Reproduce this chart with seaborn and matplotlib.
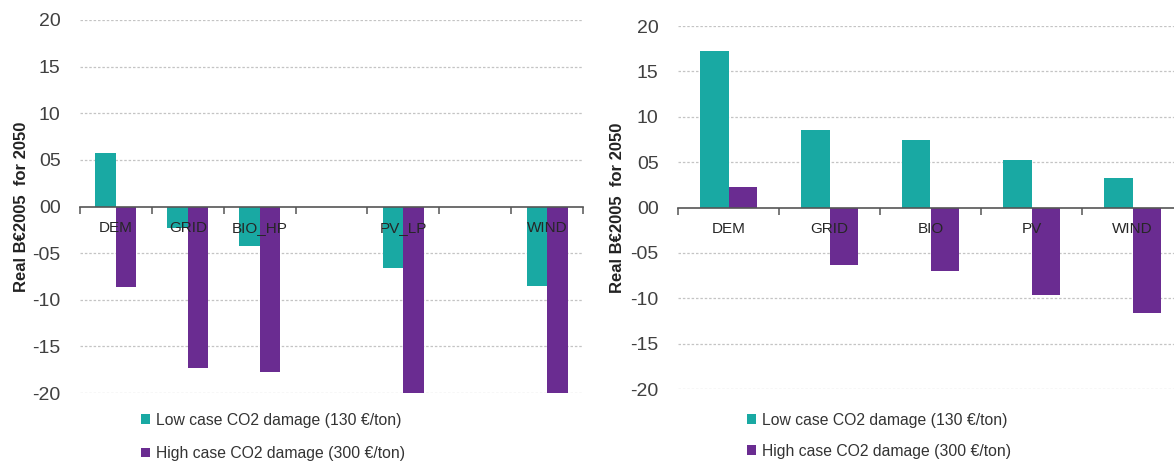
import numpy as np
import pandas as pd
import matplotlib
matplotlib.use("Agg")
import matplotlib.pyplot as plt
import seaborn as sns

# Left panel data
left_categories = ["DEM", "GRID", "BIO_HP", "PV_LP", "WIND"]
left_low = [5.7, -2.3, -4.2, -6.6, -8.5]
left_high = [-8.6, -17.3, -17.8, -20.0, -20.0]

# Right panel data
right_categories = ["DEM", "GRID", "BIO", "PV", "WIND"]
right_low = [17.2, 8.5, 7.4, 5.2, 3.2]
right_high = [2.3, -6.3, -7.0, -9.6, -11.6]

series_names = ["Low case CO2 damage (130 €/ton)", "High case CO2 damage (300 €/ton)"]
y_ticks = [-20, -15, -10, -5, 0, 5, 10, 15, 20]
y_tick_labels = ["-20", "-15", "-10", "-05", "00", "05", "10", "15", "20"]
y_label = "Real B€2005  for 2050"

TEAL = "#19A9A3"
PURPLE = "#6A2C91"

sns.set_theme(style="white")
plt.rcParams["font.family"] = ["Liberation Sans", "DejaVu Sans"]


def make_df(cats, low, high):
    return pd.DataFrame({
        "cat": cats * 2,
        "value": low + high,
        "series": [series_names[0]] * len(cats) + [series_names[1]] * len(cats),
    })


def draw_panel(ax, df, order, labels):
    sns.barplot(data=df, x="cat", y="value", hue="series", order=order,
                hue_order=series_names, palette=[TEAL, PURPLE],
                width=0.57, gap=0, saturation=1, errorbar=None,
                edgecolor="none", ax=ax, legend=True, zorder=2)
    n = len(order)
    ax.set_xlim(-0.5, n - 0.5)
    ax.set_ylim(-20, 20)
    # dashed grid lines behind the bars
    for t in y_ticks:
        if t != 0:
            ax.axhline(t, color="#C4C4C4", lw=0.9, ls=(0, (2, 1.5)), zorder=0)
    ax.set_axisbelow(False)
    ax.set_yticks(y_ticks)
    ax.set_yticklabels(y_tick_labels, fontsize=14, color="#404040")
    ax.tick_params(axis="y", length=0, pad=14)
    ax.set_xticks(range(n))
    ax.set_xticklabels(labels, fontsize=13.5, color="#333333")
    ax.set_xticks(np.arange(-0.5, n, 1), minor=True)
    ax.tick_params(axis="x", which="major", length=0, pad=10.5)
    ax.tick_params(axis="x", which="minor", length=5, width=1.1,
                   color="#555555", direction="out", bottom=True)
    for s in ["left", "right", "top"]:
        ax.spines[s].set_visible(False)
    ax.spines["bottom"].set_position(("data", 0))
    ax.spines["bottom"].set_color("#555555")
    ax.spines["bottom"].set_linewidth(1.2)
    ax.set_xlabel("")
    ax.set_ylabel(y_label, fontsize=12, fontweight="bold", color="#222222")
    handles, lbls = ax.get_legend_handles_labels()
    ax.get_legend().remove()
    return handles, lbls


fig = plt.figure(figsize=(11.74, 4.72), dpi=100)
ax1 = fig.add_axes([80 / 1174, 1 - 393 / 472, 503 / 1174, 373 / 472])
ax2 = fig.add_axes([678 / 1174, 1 - 389 / 472, 505 / 1174, 363 / 472])

left_order = ["DEM", "GRID", "BIO_HP", "_gap1", "PV_LP", "_gap2", "WIND"]
left_labels = ["DEM", "GRID", "BIO_HP", "", "PV_LP", "", "WIND"]
h1, l1 = draw_panel(ax1, make_df(left_categories, left_low, left_high), left_order, left_labels)
h2, l2 = draw_panel(ax2, make_df(right_categories, right_low, right_high), right_categories, right_categories)

ax1.yaxis.set_label_coords(-0.102, 0.5)
ax2.yaxis.set_label_coords(-0.104, 0.5)

for handles, labels, x0, spacing in [(h1, l1, 141, 1.15), (h2, l2, 747, 1.0)]:
    fig.legend(handles, labels, loc="upper left",
               bbox_to_anchor=(x0 / 1174, 1 - 413 / 472),
               frameon=False, fontsize=11.3, handlelength=0.6, handleheight=0.6,
               handletextpad=0.35, labelspacing=spacing, borderpad=0,
               borderaxespad=0, labelcolor="#333333")

fig.savefig("out.png", dpi=100)
